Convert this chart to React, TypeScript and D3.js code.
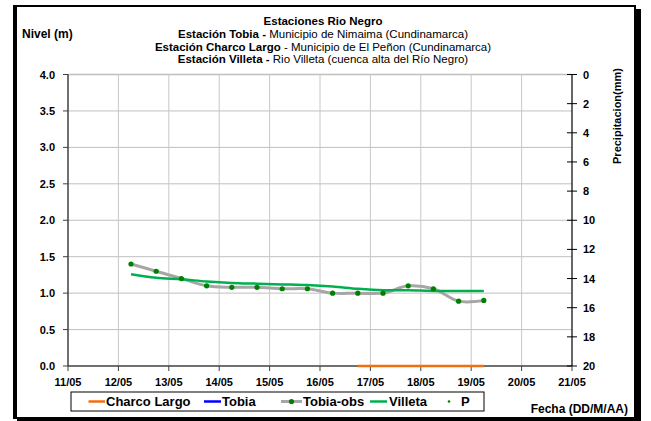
import React from "react";
import * as d3 from "d3";

const obsTimes = [
  "2011-05-12T06:00", "2011-05-12T18:00", "2011-05-13T06:00", "2011-05-13T18:00",
  "2011-05-14T06:00", "2011-05-14T18:00", "2011-05-15T06:00", "2011-05-15T18:00",
  "2011-05-16T06:00", "2011-05-16T18:00", "2011-05-17T06:00", "2011-05-17T18:00",
  "2011-05-18T06:00", "2011-05-18T18:00", "2011-05-19T06:00",
];
const tobiaObs = [1.40, 1.30, 1.20, 1.10, 1.08, 1.08, 1.06, 1.06, 1.00, 1.00, 1.00, 1.10, 1.06, 0.89, 0.90];
const villeta = [1.26, 1.21, 1.19, 1.16, 1.14, 1.13, 1.12, 1.11, 1.09, 1.06, 1.04, 1.04, 1.03, 1.03, 1.03];
const charcoTimes = ["2011-05-16T18:00", "2011-05-17T06:00", "2011-05-17T18:00", "2011-05-18T06:00", "2011-05-18T18:00", "2011-05-19T06:00"];
const charcoLargo = [0, 0, 0, 0, 0, 0];
const nivelTicks = [0, 0.5, 1.0, 1.5, 2.0, 2.5, 3.0, 3.5, 4.0];
const precipTicks = [0, 2, 4, 6, 8, 10, 12, 14, 16, 18, 20];
const dayTicks = ["2011-05-11", "2011-05-12", "2011-05-13", "2011-05-14", "2011-05-15", "2011-05-16", "2011-05-17", "2011-05-18", "2011-05-19", "2011-05-20", "2011-05-21"];

const FONT = "'Liberation Sans', Arial, sans-serif";
const parse = (s: string) => new Date(s);

export default function App() {
  const x = d3.scaleTime().domain([parse("2011-05-11T00:00"), parse("2011-05-21T00:00")]).range([68, 572]);
  const y = d3.scaleLinear().domain([0, 4]).range([366, 74.5]);
  const yR = d3.scaleLinear().domain([0, 20]).range([74.5, 366]);
  const fmt = d3.timeFormat("%d/%m");

  const obsData = obsTimes.map((t, i) => ({ t: parse(t), v: tobiaObs[i] }));
  const vilData = obsTimes.map((t, i) => ({ t: parse(t), v: villeta[i] }));
  const chData = charcoTimes.map((t, i) => ({ t: parse(t), v: charcoLargo[i] }));

  const line = d3.line<{ t: Date; v: number }>().x(d => x(d.t)).y(d => y(d.v)).curve(d3.curveCatmullRom.alpha(0.5));
  const lineStraight = d3.line<{ t: Date; v: number }>().x(d => x(d.t)).y(d => y(d.v));

  const days = dayTicks.map(parse);

  return (
    <svg width={651} height={421} style={{ position: "absolute", left: 0, top: 0, background: "#fff" }} fontFamily={FONT}>
      <rect x={0} y={0} width={651} height={421} fill="#fff" />
      {/* frame */}
      <rect x={15} y={6} width={620} height={412} fill="none" stroke="#000" strokeWidth={2} />
      <rect x={13} y={5} width={4} height={414} fill="#000" />
      <rect x={634} y={9} width={7} height={412} fill="#000" />
      <rect x={17} y={417} width={624} height={4} fill="#000" />

      {/* grid */}
      {nivelTicks.filter(v => v > 0).map(v => (
        <line key={"h" + v} x1={68} x2={572} y1={y(v)} y2={y(v)} stroke="#BFBFBF" strokeWidth={v === 4 ? 1.5 : 1} />
      ))}
      {days.slice(1, -1).map((d, i) => (
        <line key={"v" + i} x1={x(d)} x2={x(d)} y1={74.5} y2={366} stroke="#C8C8C8" strokeWidth={1} />
      ))}

      {/* axes */}
      <line x1={68} x2={68} y1={74.5} y2={366} stroke="#404040" strokeWidth={1.5} />
      <line x1={68} x2={572} y1={366} y2={366} stroke="#404040" strokeWidth={1.5} />
      <line x1={572} x2={572} y1={74.5} y2={366} stroke="#000" strokeWidth={1.2} />
      {nivelTicks.map(v => (
        <g key={"lt" + v}>
          <line x1={63} x2={68} y1={y(v)} y2={y(v)} stroke="#404040" />
          <text x={55} y={y(v) + 4} textAnchor="end" fontSize={11} fontWeight="bold">{v.toFixed(1)}</text>
        </g>
      ))}
      {precipTicks.map(v => (
        <g key={"rt" + v}>
          <line x1={567} x2={577} y1={yR(v)} y2={yR(v)} stroke="#000" />
          <text x={583} y={yR(v) + 4} fontSize={11} fontWeight="bold">{v}</text>
        </g>
      ))}
      {days.map((d, i) => (
        <g key={"bt" + i}>
          <line x1={x(d)} x2={x(d)} y1={366} y2={371} stroke="#404040" />
          <text x={x(d)} y={386} textAnchor="middle" fontSize={11} fontWeight="bold">{fmt(d)}</text>
        </g>
      ))}

      {/* series */}
      <path d={line(obsData) || ""} fill="none" stroke="#A6A6A6" strokeWidth={3} />
      <path d={line(vilData) || ""} fill="none" stroke="#00B050" strokeWidth={2.5} />
      <path d={lineStraight(chData) || ""} fill="none" stroke="#F07010" strokeWidth={2.5} />
      {obsData.map((d, i) => (
        <circle key={"p" + i} cx={x(d.t)} cy={y(d.v)} r={2.6} fill="#008000" />
      ))}

      {/* titles */}
      <text x={22} y={38} fontSize={12} fontWeight="bold">Nivel (m)</text>
      <g fontSize={11.5} textAnchor="middle">
        <text x={323} y={24.5} fontWeight="bold">Estaciones Rio Negro</text>
        <text x={323} y={38}><tspan fontWeight="bold">Estación Tobia  - </tspan>Municipio de Nimaima (Cundinamarca)</text>
        <text x={323} y={50.5}><tspan fontWeight="bold">Estación Charco Largo </tspan>- Municipio de El Peñon (Cundinamarca)</text>
        <text x={323} y={63}><tspan fontWeight="bold">Estación Villeta - </tspan> Rio Villeta (cuenca alta del Río Negro)</text>
      </g>
      <text transform="translate(621,116) rotate(-90)" textAnchor="middle" fontSize={11} fontWeight="bold">Precipitacion(mm)</text>
      <text x={628} y={413} textAnchor="end" fontSize={12} fontWeight="bold">Fecha (DD/M/AA)</text>

      {/* legend */}
      <rect x={71} y={392} width={413} height={19} fill="#fff" stroke="#000" strokeWidth={1} />
      <g fontSize={13} fontWeight="bold">
        <line x1={88.5} x2={105} y1={401.5} y2={401.5} stroke="#F07010" strokeWidth={2.5} />
        <text x={106} y={406}>Charco Largo</text>
        <line x1={204} x2={221} y1={401.5} y2={401.5} stroke="#0000FF" strokeWidth={2.5} />
        <text x={222} y={406}>Tobia</text>
        <line x1={281} x2={302} y1={401.5} y2={401.5} stroke="#A6A6A6" strokeWidth={3} />
        <circle cx={291.5} cy={401.5} r={2.6} fill="#008000" />
        <text x={303} y={406}>Tobia-obs</text>
        <line x1={370} x2={387} y1={401.5} y2={401.5} stroke="#00B050" strokeWidth={2.5} />
        <text x={389} y={406}>Villeta</text>
        <circle cx={449} cy={401.5} r={1.3} fill="#008000" />
        <text x={461} y={406}>P</text>
      </g>
    </svg>
  );
}
